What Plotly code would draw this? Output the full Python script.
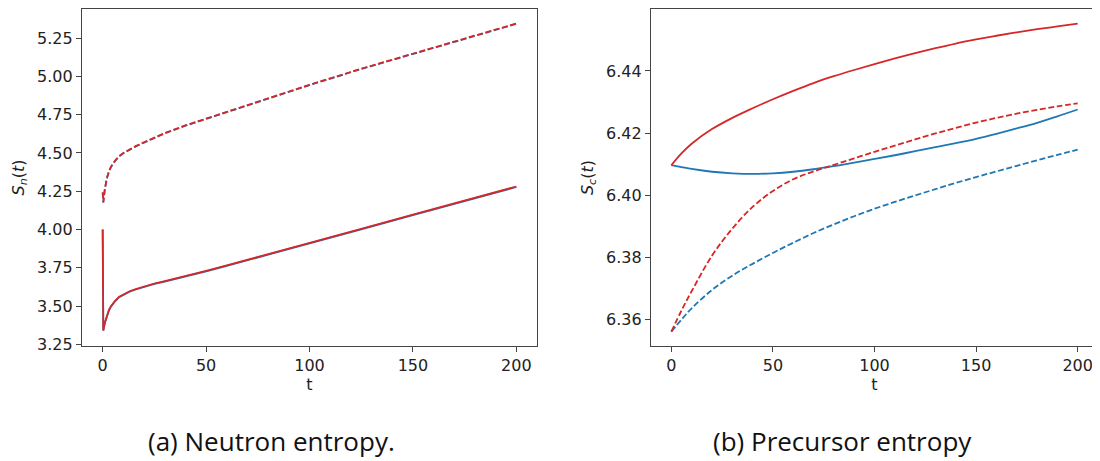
import plotly.graph_objects as go

# ---------------- data: (a) neutron entropy ----------------
t_left = [0, 0.3, 1, 2, 3, 4, 6, 8, 10, 13, 16, 20, 25, 30, 40, 50, 60, 80, 100, 125, 150, 175, 200]
sn_red_dash = [4.243, 4.178, 4.26, 4.335, 4.38, 4.41, 4.45, 4.48, 4.50, 4.525, 4.545, 4.57, 4.60, 4.63,
               4.68, 4.725, 4.77, 4.858, 4.945, 5.05, 5.15, 5.248, 5.345]
sn_blue_dash = [4.243, 4.178, 4.259, 4.333, 4.378, 4.408, 4.448, 4.478, 4.498, 4.523, 4.543, 4.568, 4.598,
                4.628, 4.678, 4.723, 4.768, 4.856, 4.943, 5.048, 5.148, 5.246, 5.343]
sn_red = [4.0, 3.341, 3.39, 3.44, 3.475, 3.50, 3.535, 3.562, 3.578, 3.597, 3.612, 3.630, 3.648, 3.664,
          3.695, 3.730, 3.766, 3.838, 3.912, 4.005, 4.097, 4.189, 4.281]
sn_blue = [4.0, 3.341, 3.388, 3.437, 3.472, 3.497, 3.532, 3.559, 3.575, 3.594, 3.609, 3.627, 3.645, 3.661,
           3.692, 3.727, 3.763, 3.835, 3.909, 4.002, 4.094, 4.186, 4.278]

# ---------------- data: (b) precursor entropy ----------------
t_right = [0, 5, 10, 20, 30, 40, 50, 60, 70, 80, 90, 100, 110, 120, 130, 140, 150, 160, 170, 180, 190, 200]
sc_red = [6.4097, 6.4135, 6.4166, 6.4213, 6.4249, 6.4280, 6.4309, 6.4336, 6.4361, 6.4383, 6.4403, 6.4422,
          6.4440, 6.4457, 6.4473, 6.4488, 6.4501, 6.4513, 6.4524, 6.4534, 6.4543, 6.4552]
sc_blue = [6.4097, 6.4091, 6.4085, 6.4076, 6.4071, 6.4069, 6.4071, 6.4076, 6.4084, 6.4094, 6.4105, 6.4117,
           6.4129, 6.4142, 6.4155, 6.4168, 6.4182, 6.4198, 6.4215, 6.4233, 6.4254, 6.4276]
sc_red_dash = [6.3562, 6.3630, 6.3692, 6.3806, 6.3893, 6.3963, 6.4014, 6.4052, 6.4077, 6.4098, 6.4119, 6.4140,
               6.4160, 6.4180, 6.4199, 6.4217, 6.4234, 6.4249, 6.4263, 6.4275, 6.4286, 6.4296]
sc_blue_dash = [6.3562, 6.3601, 6.3637, 6.3696, 6.3742, 6.3780, 6.3815, 6.3848, 6.3879, 6.3907, 6.3933, 6.3957,
                6.3979, 6.4000, 6.4020, 6.4040, 6.4059, 6.4077, 6.4095, 6.4113, 6.4130, 6.4147]

x_ticks = [0, 50, 100, 150, 200]
left_y_ticks = [3.25, 3.50, 3.75, 4.00, 4.25, 4.50, 4.75, 5.00, 5.25]
right_y_ticks = [6.36, 6.38, 6.40, 6.42, 6.44]
captions = ["(a) Neutron entropy.", "(b) Precursor entropy"]

RED = "#d62728"
BLUE = "#1f77b4"
LW = 1.8
DASH = "6px,2.6px"

# page body has an 8px margin: work in reference pixels, shifted by 8
W, H, OFF = 1092, 453, 8
def px(x):
    return (x - OFF) / W
def py(y):
    return 1 - (y - OFF) / H

fig = go.Figure()

def add(x, y, color, dash, xa, ya, shape):
    line = dict(color=color, width=LW, dash=dash, shape=shape)
    if shape == "spline":
        line["smoothing"] = 1.0
    fig.add_trace(go.Scatter(x=x, y=y, mode="lines", xaxis=xa, yaxis=ya, line=line,
                             showlegend=False, hoverinfo="skip"))

add(t_left, sn_blue_dash, BLUE, DASH, "x", "y", "linear")
add(t_left, sn_blue, BLUE, "solid", "x", "y", "linear")
add(t_left, sn_red_dash, RED, DASH, "x", "y", "linear")
add(t_left, sn_red, RED, "solid", "x", "y", "linear")

add(t_right, sc_blue, BLUE, "solid", "x2", "y2", "spline")
add(t_right, sc_red, RED, "solid", "x2", "y2", "spline")
add(t_right, sc_blue_dash, BLUE, DASH, "x2", "y2", "spline")
add(t_right, sc_red_dash, RED, DASH, "x2", "y2", "spline")

tickfont = dict(family="DejaVu Sans", size=16, color="#222")
titlefont = dict(family="DejaVu Sans", size=16, color="#222")
axcommon = dict(showgrid=False, zeroline=False, showline=True, mirror=True, linecolor="#444",
                linewidth=1.2, ticks="outside", ticklen=5, tickwidth=1.2, tickcolor="#444",
                tickfont=tickfont, automargin=False)

ydom = [py(346), py(9)]
fig.update_layout(
    width=W, height=H,
    margin=dict(l=0, r=0, t=0, b=0),
    plot_bgcolor="white", paper_bgcolor="white",
    xaxis=dict(domain=[px(82), px(537)], range=[-10, 210], tickvals=x_ticks,
               title=dict(text="t", font=titlefont, standoff=4), **axcommon),
    yaxis=dict(domain=ydom, range=[3.24, 5.44], tickvals=left_y_ticks,
               ticktext=[f"{v:.2f}" for v in left_y_ticks],
               title=dict(text="<i>S</i><sub><i>n</i></sub>(<i>t</i>)", font=titlefont, standoff=8),
               **axcommon),
    xaxis2=dict(domain=[px(651), px(1098)], range=[-10, 210], tickvals=x_ticks, anchor="y2",
                title=dict(text="t", font=titlefont, standoff=4), **axcommon),
    yaxis2=dict(domain=ydom, range=[6.3516, 6.4599], tickvals=right_y_ticks, anchor="x2",
                ticktext=[f"{v:.2f}" for v in right_y_ticks],
                title=dict(text="<i>S</i><sub><i>c</i></sub>(<i>t</i>)", font=titlefont, standoff=8),
                **axcommon),
)

for cx, text in zip([271, 842], captions):
    fig.add_annotation(x=px(cx), y=py(441), xref="paper", yref="paper", text=text, showarrow=False,
                       xanchor="center", yanchor="middle",
                       font=dict(family="Open Sans", size=26, color="#111"))

fig.write_html("out.html")
